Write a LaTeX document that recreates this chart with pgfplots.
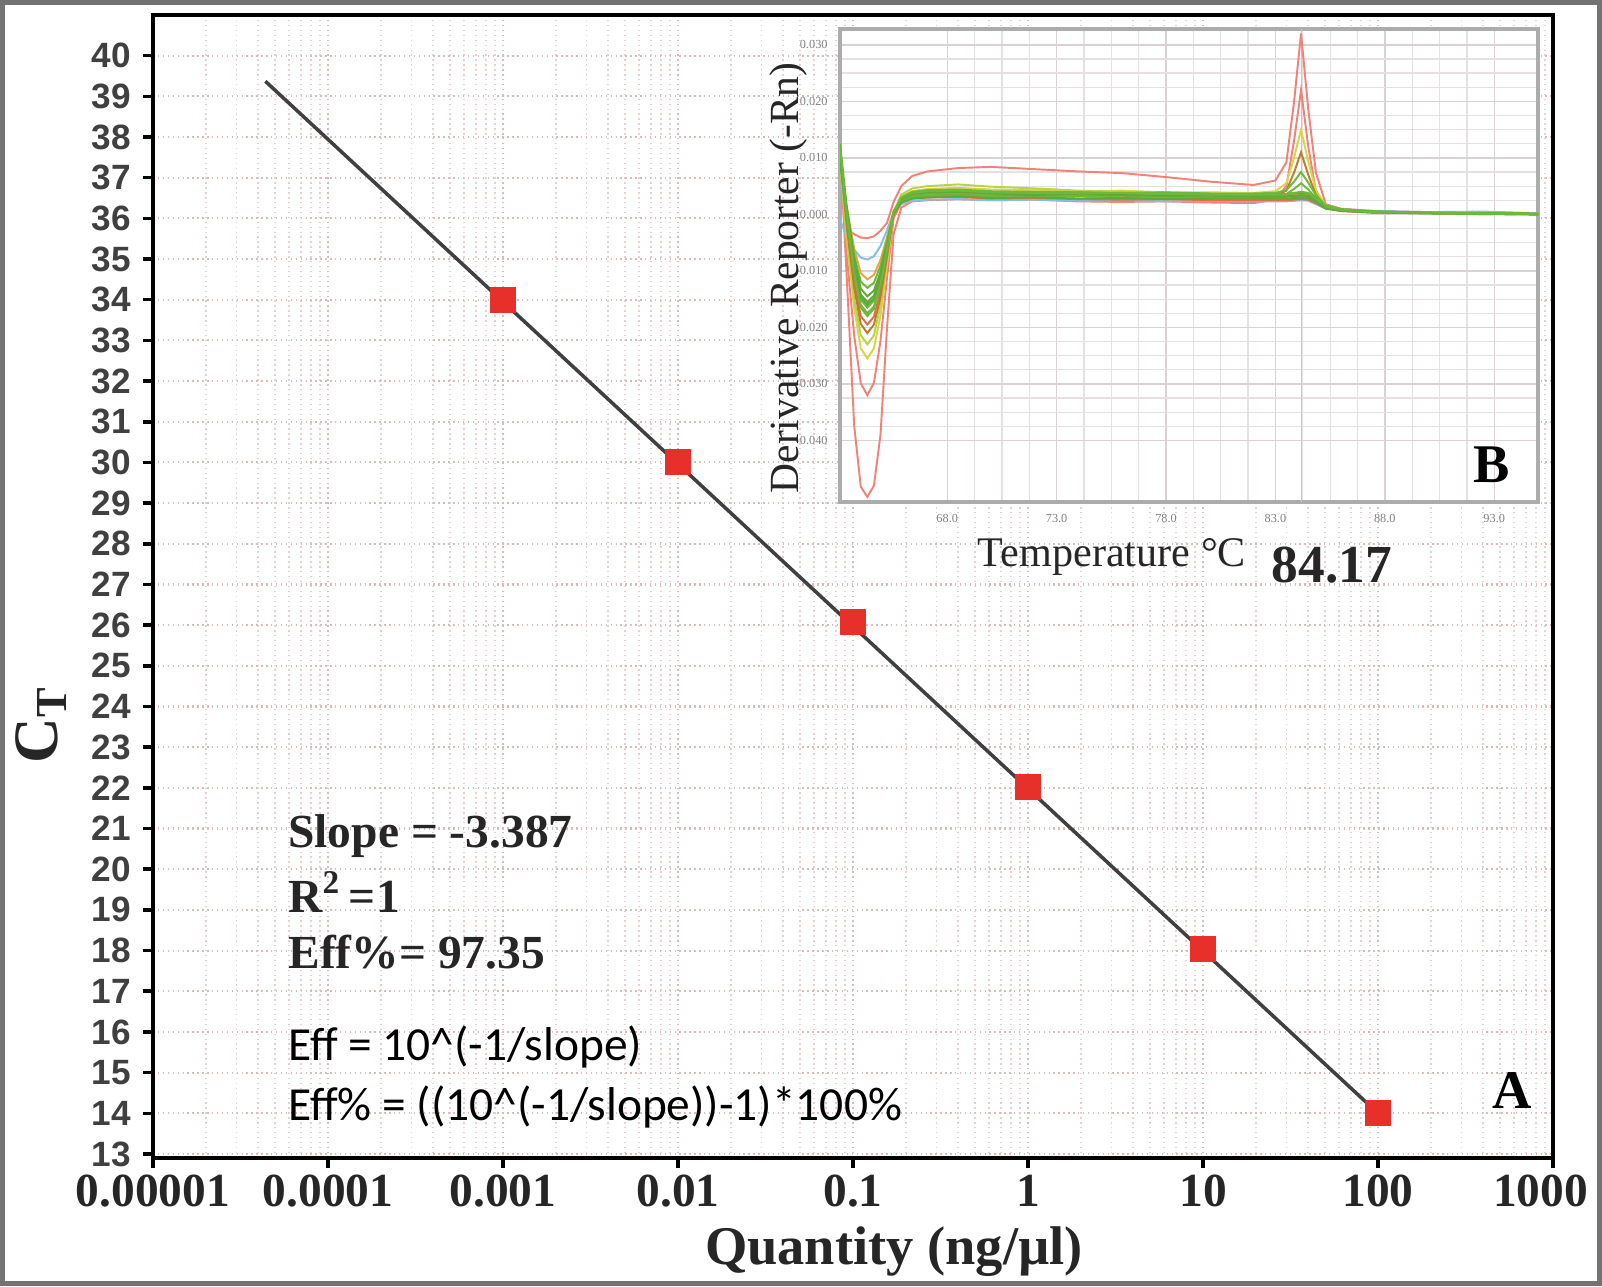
\documentclass[border=0pt]{standalone}
\usepackage{pgfplots}
\pgfplotsset{compat=1.18}
\usepackage{pgfplotstable}
\usepackage{fontspec}
\setmainfont{Liberation Serif}
\setsansfont{Liberation Sans}
\newfontfamily\calib{Carlito}

\definecolor{mred}{RGB}{240,130,120}
\definecolor{myel}{RGB}{215,215,70}
\definecolor{mygr}{RGB}{185,210,70}
\definecolor{mbrn}{RGB}{185,125,45}
\definecolor{mrdo}{RGB}{225,110,70}
\definecolor{mgrn}{RGB}{110,185,60}
\definecolor{mgrn2}{RGB}{95,170,55}
\definecolor{morg}{RGB}{235,165,70}
\definecolor{mblu}{RGB}{130,190,230}
\definecolor{sqred}{RGB}{232,48,42}
\definecolor{gridc}{RGB}{215,190,190}

% melt curves, derivative x 1000
\pgfplotstableread{
T     c1    c2    c3   c4    c5    c6    c7    c8    c9    c10   c11   c12   c13   c14   c15   c16
63.1  12    10    -1.5 10    9     11    10    12    11    10    10    -1    12.5  11.5  9.5   12
63.4  -10.5 -6.8  -2.6 -4.2  -3.8  -1.8  -1.8  0.2   0.4   0.8   1.4   -3.8  1.7   0.3   -0.7  0
63.75 -37.5 -21.5 -3.5 -16.6 -15   -13   -12.1 -10.1 -8.9  -7.3  -6.1  -6.25 -7.75 -9.5  -9.6  -10.5
64.05 -48.2 -29.9 -4.1 -23.7 -21.4 -19.4 -18   -16   -14.2 -11.9 -10.4 -7.65 -13.15 -15.1 -14.7 -16.5
64.35 -50   -32   -4.2 -25.5 -23   -21   -19.5 -17.5 -15.5 -13   -11.5 -8    -14.5 -16.5 -16   -18
64.65 -48   -29.8 -3.9 -23.7 -21.4 -19.5 -18.1 -16.3 -14.4 -12.1 -10.7 -7.4  -13.5 -15.3 -14.9 -16.7
64.95 -39   -22.4 -2.9 -17.9 -16.1 -14.7 -13.7 -12.3 -10.9 -9.1  -8.1  -5.6  -10.2 -11.6 -11.2 -12.6
65.25 -20   -11.2 -1.5 -8.9  -8.1  -7.4  -6.8  -6.1  -5.4  -4.6  -4.0  -2.8  -5.1  -5.8  -5.6  -6.3
65.55 -3.5  -0.7  2.2  0.05  0.35  0.0   -0.1  0.2   0.4   0.35  0.56  0.38  0.17  0.46  0.37  0.33
65.9  1.2   2.1   5.0  3.2   3.5   2.45  2.1   2.5   2.8   2.3   2.7   1.8   2.1   3.0   2.7   2.9
66.4  2.3   2.8   6.8  4.1   4.6   3.2   2.8   3.3   3.7   3.0   3.5   2.4   2.8   4.0   3.6   3.8
67.1  2.5   3.0   7.6  4.5   5.0   3.5   3.0   3.6   4.0   3.3   3.8   2.6   3.0   4.3   3.9   4.1
68.5  2.7   3.2   8.2  4.7   5.3   3.6   3.1   3.8   4.1   3.4   3.9   2.7   3.2   4.4   4.0   4.2
70    2.5   2.9   8.4  4.4   4.9   3.4   2.8   3.5   3.9   3.2   3.6   2.5   2.9   4.1   3.7   3.9
72    2.6   3.0   8.0  4.3   4.6   3.3   2.9   3.6   3.8   3.1   3.7   2.6   3.0   4.0   3.5   3.8
74    2.3   2.8   7.6  4.1   4.2   3.2   2.7   3.4   3.9   3.3   3.5   2.4   2.8   3.9   3.6   3.7
76    2.2   2.9   7.3  4.2   4.0   3.3   2.6   3.5   3.7   3.0   3.6   2.5   2.9   3.8   3.4   3.8
78    2.3   2.7   6.6  3.9   3.8   3.1   2.7   3.3   3.8   3.1   3.4   2.3   2.7   3.9   3.3   3.6
80    2.1   2.6   5.8  3.9   3.7   3.0   2.5   3.4   3.6   3.0   3.5   2.4   2.8   3.7   3.3   3.5
82    2.0   2.6   5.2  3.8   3.6   3.0   2.5   3.3   3.6   3.0   3.4   2.3   2.8   3.7   3.2   3.5
83.0  2.6   2.6   6.0  4.1   3.6   3.2   2.5   3.4   3.6   3.0   3.4   2.3   2.8   3.8   3.2   3.5
83.5  5.0   2.6   9.2  5.5   3.6   4.2   2.5   3.6   3.6   3.1   3.4   2.3   2.8   4.3   3.2   3.6
83.85 13.0  2.7   19.9 10.0  3.7   7.4   2.6   4.5   3.7   3.2   3.5   2.4   2.9   5.8   3.3   3.8
84.17 22    2.8   32   15    3.8   11    2.7   5.5   3.8   3.3   3.6   2.5   3.0   7.5   3.4   4.0
84.5  12    2.7   18.6 9.4   3.7   7.0   2.6   4.4   3.7   3.2   3.5   2.4   2.9   5.6   3.3   3.8
84.85 4.0   2.1   7.4  4.3   2.9   3.4   2.0   2.9   2.9   2.4   2.7   1.8   2.2   3.4   2.5   2.8
85.3  1.5   1.2   1.8  1.6   1.4   1.3   1.1   1.3   1.5   1.2   1.3   1.0   1.0   1.6   1.2   1.4
86    0.9   0.7   1.0  0.9   0.8   0.8   0.6   0.8   0.9   0.7   0.8   0.9   0.6   0.9   0.7   0.8
87.5  0.5   0.4   0.6  0.5   0.4   0.5   0.3   0.5   0.5   0.4   0.4   0.6   0.3   0.5   0.4   0.4
90    0.3   0.2   0.4  0.3   0.3   0.3   0.2   0.3   0.3   0.2   0.3   0.4   0.2   0.3   0.2   0.3
92.5  0.2   0.0   0.3  0.2   0.1   0.2   0.1   0.2   0.2   0.1   0.2   0.5   0.1   0.2   0.1   0.1
95    0.1   0.1   0.2  0.0   0.1   0.1   0.0   0.1   0.1   0.0   0.1   0.2   0.0   0.1   0.0   0.1
}\melt

\begin{document}
\begin{tikzpicture}
\path[use as bounding box] (0,0) rectangle (16.02,12.86);
\draw[black!55, line width=1.3pt] (0.023,0.023) rectangle (15.997,12.837);

% main standard curve
\begin{axis}[at={(1.53cm,1.28cm)}, anchor=south west, scale only axis,
  width=14cm, height=11.43cm,
  xmode=log, xmin=1e-5, xmax=1e3, ymin=12.9, ymax=41,
  xtick={1e-5,1e-4,1e-3,1e-2,1e-1,1,10,100,1000},
  xticklabels={0.00001,0.0001,0.001,0.01,0.1,1,10,100,1000\hspace*{7pt}},
  ytick={13,14,...,40},
  grid=both,
  major grid style={densely dotted, gridc, line width=0.6pt},
  minor grid style={densely dotted, gridc!70, line width=0.5pt},
  axis line style={line width=1.3pt},
  tick align=outside, xtick pos=bottom, ytick pos=left,
  major tick length=0.1cm, minor tick length=0cm,
  major tick style={line width=1pt, black},
  /pgf/number format/assume math mode=true,
  xticklabel style={font=\fontsize{13.5}{14}\bfseries\selectfont, text=black!85, yshift=1.5pt},
  yticklabel style={font=\fontsize{10}{10}\sffamily\bfseries\selectfont, text=black!75},
]
\addplot[black!75, line width=1pt] coordinates {(4.39e-5,39.37) (100,14.0)};
\addplot[only marks, mark=square*, mark size=3.5pt, color=sqred] coordinates {
  (0.001,34.0) (0.01,30.0) (0.1,26.08) (1,22.03) (10,18.03) (100,14.0)};
\end{axis}

% inset melt curve
\begin{axis}[at={(8.40cm,7.84cm)}, anchor=south west, scale only axis,
  width=6.98cm, height=4.73cm,
  xmin=63.1, xmax=95, ymin=-50.9, ymax=32.8,
  xtick={68,73,78,83,88,93},
  xticklabels={68.0,73.0,78.0,83.0,88.0,93.0},
  ytick={-40,-30,...,30},
  yticklabels={-0.040,-0.030,-0.020,-0.010,0.000,0.010,0.020,0.030},
  minor x tick num=3, minor y tick num=3,
  grid=both,
  major grid style={red!10!gray!32, line width=0.4pt},
  minor grid style={red!10!gray!22, line width=0.35pt},
  axis line style={gray!65, line width=1pt},
  axis background/.style={fill=white},
  major tick length=0cm, minor tick length=0cm,
  tick label style={font=\fontsize{3.5}{4}\selectfont, text=gray},
  every axis plot/.append style={line width=0.55pt},
]
\addplot[mblu!70, line width=0.3pt] coordinates {(84.17,-50.9) (84.17,32.8)};
\addplot[mred] table[x=T, y=c1] {\melt};
\addplot[mred] table[x=T, y=c2] {\melt};
\addplot[mred] table[x=T, y=c3] {\melt};
\addplot[mblu] table[x=T, y=c12] {\melt};
\addplot[mrdo] table[x=T, y=c7] {\melt};
\addplot[myel] table[x=T, y=c4] {\melt};
\addplot[mygr] table[x=T, y=c5] {\melt};
\addplot[mbrn] table[x=T, y=c6] {\melt};
\addplot[morg] table[x=T, y=c11] {\melt};
\addplot[mgrn] table[x=T, y=c8] {\melt};
\addplot[mgrn2] table[x=T, y=c9] {\melt};
\addplot[mgrn] table[x=T, y=c10] {\melt};
\addplot[mgrn2] table[x=T, y=c13] {\melt};
\addplot[mgrn] table[x=T, y=c14] {\melt};
\addplot[mgrn2] table[x=T, y=c15] {\melt};
\addplot[mgrn] table[x=T, y=c16] {\melt};
\end{axis}

% labels
\node[rotate=90, font=\fontsize{11.8}{13}\selectfont, text=black!85] at (7.89,10.08) {Derivative Reporter (-Rn)};
\node[font=\fontsize{12}{13}\selectfont, text=black!85] at (11.12,7.29) {Temperature °C};
\node[font=\fontsize{15.2}{16}\bfseries\selectfont, text=black!85] at (13.32,7.21) {84.17};
\node[font=\fontsize{15.5}{16}\bfseries\selectfont] at (14.92,8.21) {B};
\node[font=\fontsize{15.5}{16}\bfseries\selectfont] at (15.12,1.95) {A};
\node[font=\fontsize{15.5}{16}\bfseries\selectfont, text=black!85] at (8.94,0.34) {Quantity (ng/µl)};
\node[rotate=90, font=\fontsize{18}{19}\bfseries\selectfont, text=black!85] at (0.41,5.61) {C\textsubscript{T}};
\node[anchor=west, font=\fontsize{13.5}{14}\bfseries\selectfont, text=black!85] at (2.76,4.50) {Slope = -3.387};
\node[anchor=west, font=\fontsize{13.5}{14}\bfseries\selectfont, text=black!85] at (2.76,3.94) {R\textsuperscript{2}\,=1};
\node[anchor=west, font=\fontsize{13.5}{14}\bfseries\selectfont, text=black!85] at (2.76,3.34) {Eff\%= 97.35};
\node[anchor=west, font=\fontsize{13.5}{14}\calib\selectfont] at (2.76,2.39) {Eff = 10\textasciicircum(-1/slope)};
\node[anchor=west, font=\fontsize{13.5}{14}\calib\selectfont] at (2.76,1.79) {Eff\% = ((10\textasciicircum(-1/slope))-1)*100\%};
\end{tikzpicture}
\end{document}
